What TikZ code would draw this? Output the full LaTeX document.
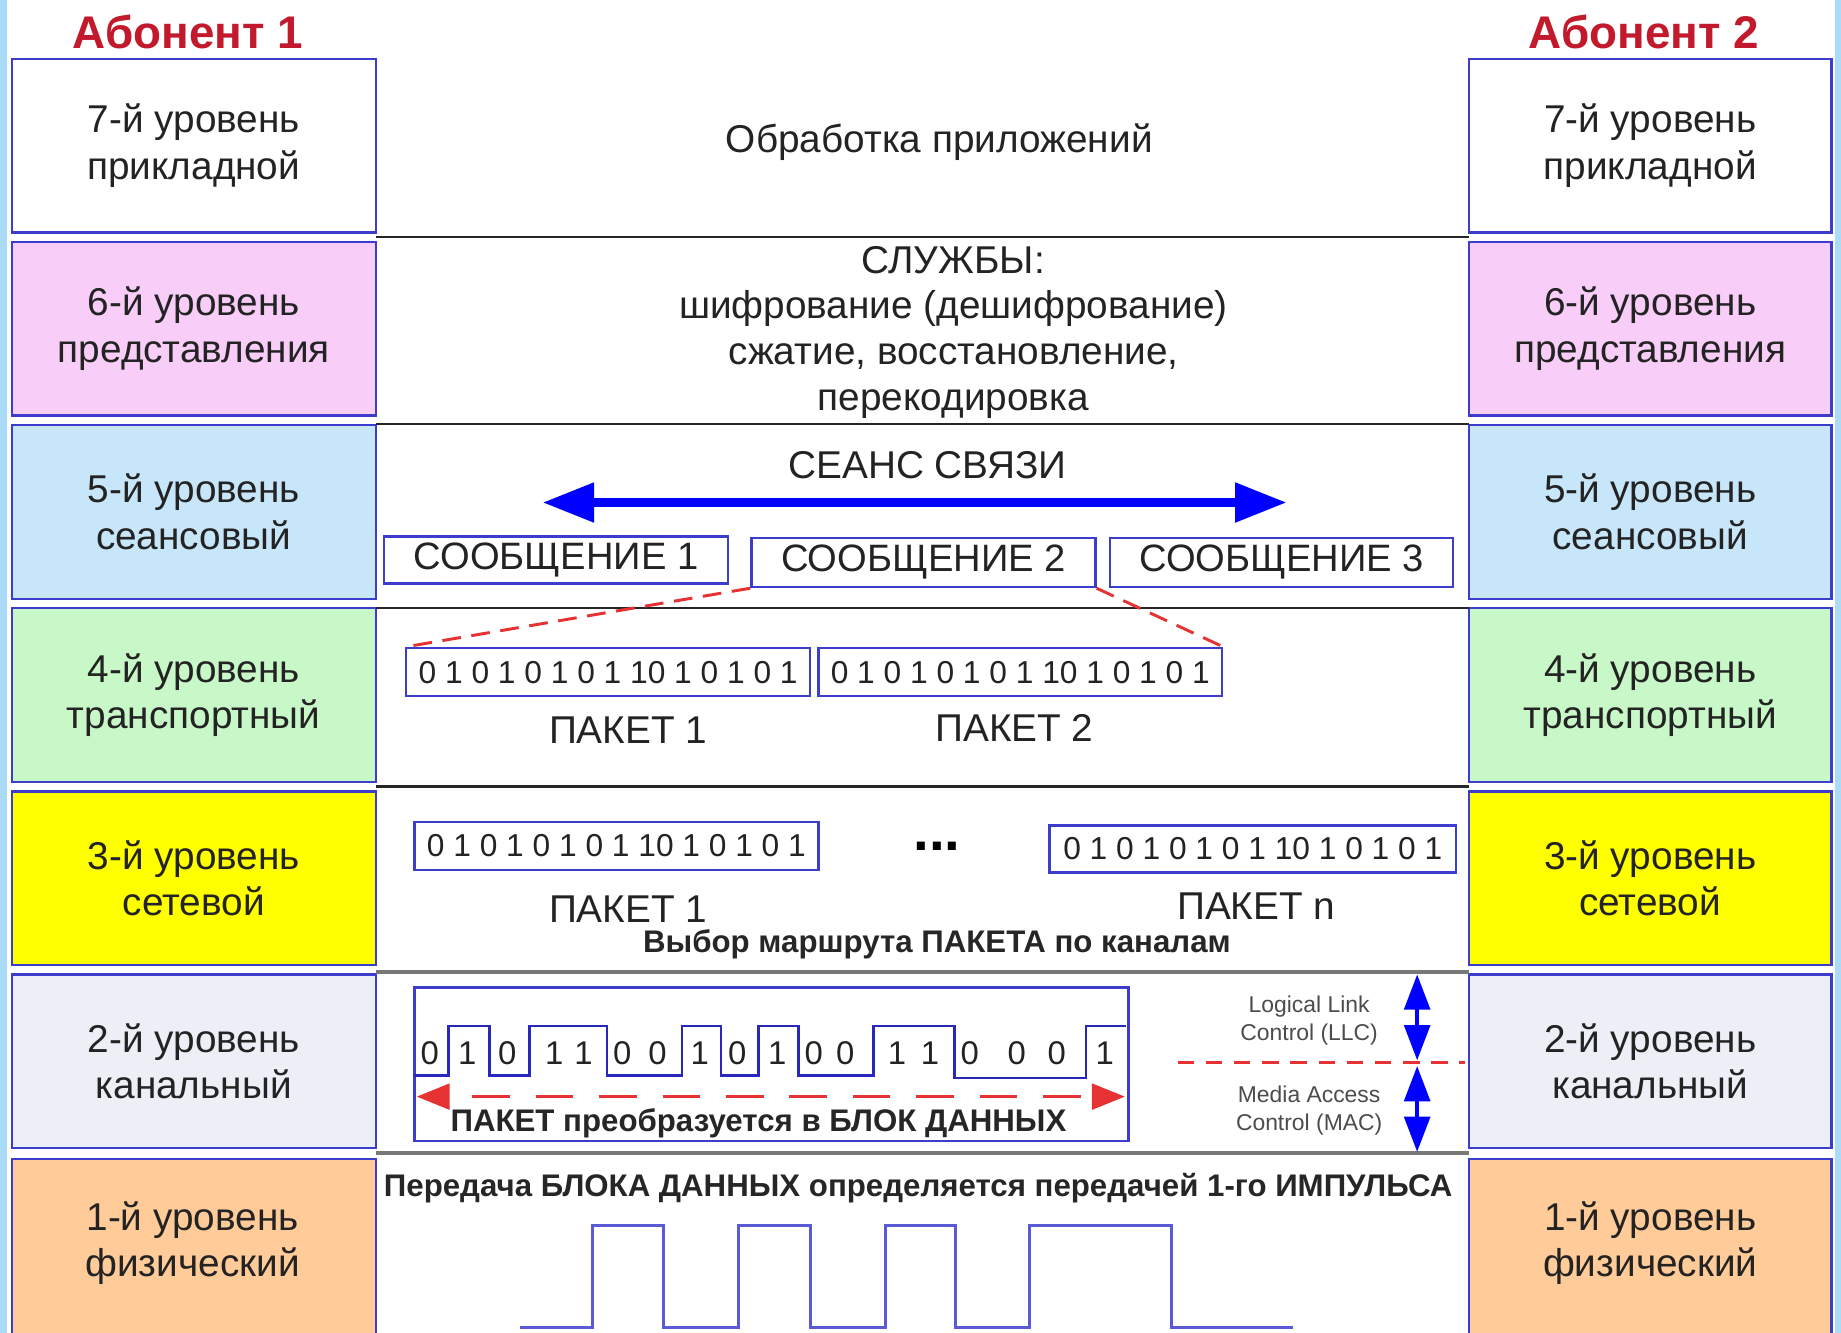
\documentclass[tikz,border=0pt]{standalone}
\usepackage{fontspec}
\setmainfont{Liberation Sans}
\usetikzlibrary{arrows.meta}
\definecolor{boxblue}{RGB}{60,60,205}
\definecolor{wave}{RGB}{40,40,190}
\definecolor{pulse}{RGB}{90,90,215}
\definecolor{txt}{RGB}{35,35,35}
\definecolor{titlered}{RGB}{195,25,45}
\definecolor{edgeblue}{RGB}{170,220,250}
\definecolor{fsix}{RGB}{248,205,248}
\definecolor{ffive}{RGB}{200,230,250}
\definecolor{ffour}{RGB}{200,248,200}
\definecolor{fthree}{RGB}{255,255,0}
\definecolor{ftwo}{RGB}{236,239,246}
\definecolor{fone}{RGB}{255,204,153}
\definecolor{dred}{RGB}{230,50,50}
\definecolor{sepgray}{RGB}{120,120,120}
\begin{document}
\begin{tikzpicture}[x=1pt,y=-1pt,
  lbox/.style={draw=boxblue, line width=2pt, minimum width=310pt, minimum height=148pt,
     inner sep=0pt, align=center, text=txt, font=\fontsize{33}{39.5}\selectfont},
  ltxt/.style={inner sep=0pt, align=center, text=txt, font=\fontsize{33}{39.5}\selectfont},
  ttl/.style={inner sep=0pt, text=titlered, font=\fontsize{39}{42}\selectfont\bfseries},
  mtxt/.style={inner sep=0pt, align=center, text=txt, font=\fontsize{33}{39}\selectfont},
  msgbox/.style={draw=boxblue, line width=2pt, inner sep=0pt, text=txt,
     font=\fontsize{32.5}{36}\selectfont},
  pktbox/.style={draw=boxblue, line width=2pt, inner sep=0pt, text=txt,
     font=\fontsize{27}{30}\selectfont},
  btxt/.style={inner sep=0pt, text=black!85, font=\fontsize{26.6}{30}\selectfont\bfseries},
  bit/.style={inner sep=0pt, text=txt, font=\fontsize{28}{30}\selectfont},
  small/.style={inner sep=0pt, align=center, text=black!70, font=\fontsize{19.5}{24}\selectfont},
  sep/.style={line width=2pt, black!85},
  sepg/.style={line width=3.5pt, sepgray},
  reddash/.style={dred, line width=2.5pt, dash pattern=on 16pt off 9pt},
]
\useasboundingbox (0,0) rectangle (1568,1135);
\fill[white] (0,0) rectangle (1568,1135);
\fill[edgeblue] (0,0) rectangle (6,1135);
\fill[edgeblue] (1563,0) rectangle (1568,1135);

% titles
\node[ttl] (t1) at (160,27) {Абонент 1};
\node[ttl] (t2) at (1400,27) {Абонент 2};

% left column
\node[lbox, fill=white]  (L7) at (165,124) {7-й уровень\\прикладной};
\node[lbox, fill=fsix]   (L6) at (165,280) {6-й уровень\\представления};
\node[lbox, fill=ffive]  (L5) at (165,436) {5-й уровень\\сеансовый};
\node[lbox, fill=ffour]  (L4) at (165,592) {4-й уровень\\транспортный};
\node[lbox, fill=fthree] (L3) at (165,748) {3-й уровень\\сетевой};
\node[lbox, fill=ftwo]   (L2) at (165,904) {2-й уровень\\канальный};
\node[lbox, fill=fone, minimum height=170pt, anchor=north] (L1) at (165,986) {};
\node[ltxt] (L1t) at (164,1059) {1-й уровень\\физический};

% right column
\node[lbox, fill=white, minimum width=309pt]  (R7) at (1405.5,124) {7-й уровень\\прикладной};
\node[lbox, fill=fsix, minimum width=309pt]   (R6) at (1405.5,280) {6-й уровень\\представления};
\node[lbox, fill=ffive, minimum width=309pt]  (R5) at (1405.5,436) {5-й уровень\\сеансовый};
\node[lbox, fill=ffour, minimum width=309pt]  (R4) at (1405.5,592) {4-й уровень\\транспортный};
\node[lbox, fill=fthree, minimum width=309pt] (R3) at (1405.5,748) {3-й уровень\\сетевой};
\node[lbox, fill=ftwo, minimum width=309pt]   (R2) at (1405.5,904) {2-й уровень\\канальный};
\node[lbox, fill=fone, minimum width=309pt, minimum height=170pt, anchor=north] (R1) at (1405.5,986) {};
\node[ltxt] (R1t) at (1405.5,1059) {1-й уровень\\физический};

% separators
\draw[sep] (320,202) -- (1251,202);
\draw[sep] (320,361) -- (1251,361);
\draw[sep] (320,518) -- (1251,518);
\draw[sep] (320,670) -- (1251,670);
\draw[sepg] (320,828) -- (1251,828);
\draw[sepg] (320,982) -- (1251,982);

% row 7
\node[mtxt] (app) at (800,121) {Обработка приложений};

% row 6
\node[mtxt] (svc) at (812,283) {СЛУЖБЫ:\\шифрование (дешифрование)\\сжатие, восстановление,\\перекодировка};

% row 5
\node[mtxt] (ses) at (790,396) {СЕАНС СВЯЗИ};
\coordinate (sesL) at (462,428);
\coordinate (sesR) at (1096,428);
\draw[blue, line width=8pt, {Triangle[length=44pt,width=32pt]}-{Triangle[length=44pt,width=32pt]}] (sesL) -- (sesR);
\node[msgbox, minimum width=293pt, minimum height=40pt] (m1) at (473.5,477) {СООБЩЕНИЕ 1};
\node[msgbox, minimum width=293pt, minimum height=42pt] (m2) at (786.5,479) {СООБЩЕНИЕ 2};
\node[msgbox, minimum width=292pt, minimum height=42pt] (m3) at (1091.5,479) {СООБЩЕНИЕ 3};

% row 4
\node[pktbox, minimum width=344pt, minimum height=41pt] (p41) at (518,572.5) {0 1 0 1 0 1 0 1 10 1 0 1 0 1};
\node[pktbox, minimum width=344pt, minimum height=41pt] (p42) at (869,572.5) {0 1 0 1 0 1 0 1 10 1 0 1 0 1};
\draw[reddash] (m2.south west) -- (p41.north west);
\draw[reddash] (m2.south east) -- (p42.north east);
\node[mtxt] (pk1) at (535,622) {ПАКЕТ 1};
\node[mtxt] (pk2) at (864,620) {ПАКЕТ 2};

% row 3
\node[pktbox, minimum width=344pt, minimum height=41pt] (p31) at (525,720.5) {0 1 0 1 0 1 0 1 10 1 0 1 0 1};
\node[pktbox, minimum width=346pt, minimum height=40pt] (p3n) at (1067,723) {0 1 0 1 0 1 0 1 10 1 0 1 0 1};
\node[inner sep=0pt, font=\fontsize{48}{48}\selectfont\bfseries] (dots) at (798,721) {...};
\node[mtxt] (pk31) at (535,774) {ПАКЕТ 1};
\node[mtxt] (pk3n) at (1070,772) {ПАКЕТ n};
\node[btxt] (route) at (798,804) {Выбор маршрута ПАКЕТА по каналам};

% row 2
\node[draw=boxblue, line width=2pt, minimum width=608pt, minimum height=131pt, inner sep=0pt, anchor=north west] (frame) at (352,840) {};
\draw[wave, line width=2.2pt] (353,916) -- (382,916) -- (382,874) -- (417,874) -- (417,916) -- (451,916) -- (451,874) -- (517,874) -- (517,916) -- (581,916) -- (581,874) -- (614,874) -- (614,916) -- (646,916) -- (646,874) -- (680,874) -- (680,916) -- (744,916) -- (744,874) -- (813,874) -- (813,918) -- (925,918) -- (925,874) -- (959,874);
\foreach \x/\b [count=\i] in {366/0,398/1,432/0,472/1,497/1,530/0,560/0,596/1,628/0,662/1,693/0,720/0,764/1,792/1,826/0,866/0,900/0,941/1}
  \node[bit] (b\i) at (\x,897) {\b};
\coordinate (blkL) at (355,934);
\coordinate (blkR) at (958,934);
\draw[dred, line width=2.5pt, dash pattern=on 32pt off 22pt, dash phase=-20pt,
  {Triangle[length=28pt,width=22pt]}-{Triangle[length=28pt,width=22pt]}] (blkL) -- (blkR);
\node[btxt] (conv) at (646,957) {ПАКЕТ преобразуется в БЛОК ДАННЫХ};

\node[small] (llc) at (1115,869) {Logical Link\\Control (LLC)};
\node[small] (mac) at (1115,946) {Media Access\\Control (MAC)};
\coordinate (sublL) at (1003,905);
\coordinate (sublR) at (1248,905);
\draw[dred, line width=2pt, dash pattern=on 14pt off 10pt] (sublL) -- (sublR);
\coordinate (a1t) at (1207,830);
\coordinate (a1b) at (1207,903);
\coordinate (a2t) at (1207,908);
\coordinate (a2b) at (1207,981);
\draw[blue, line width=3pt, {Triangle[length=30pt,width=22pt]}-{Triangle[length=30pt,width=22pt]}] (a1t) -- (a1b);
\draw[blue, line width=3pt, {Triangle[length=30pt,width=22pt]}-{Triangle[length=30pt,width=22pt]}] (a2t) -- (a2b);

% row 1
\node[btxt] (phys) at (782,1012) {Передача БЛОКА ДАННЫХ определяется передачей 1-го ИМПУЛЬСА};
\draw[pulse, line width=2.5pt] (443,1131) -- (505,1131) -- (505,1044) -- (565,1044) -- (565,1131) -- (629,1131) -- (629,1044) -- (690,1044) -- (690,1131) -- (754,1131) -- (754,1044) -- (814,1044) -- (814,1131) -- (877,1131) -- (877,1044) -- (998,1044) -- (998,1131) -- (1101,1131);
\end{tikzpicture}
\end{document}
